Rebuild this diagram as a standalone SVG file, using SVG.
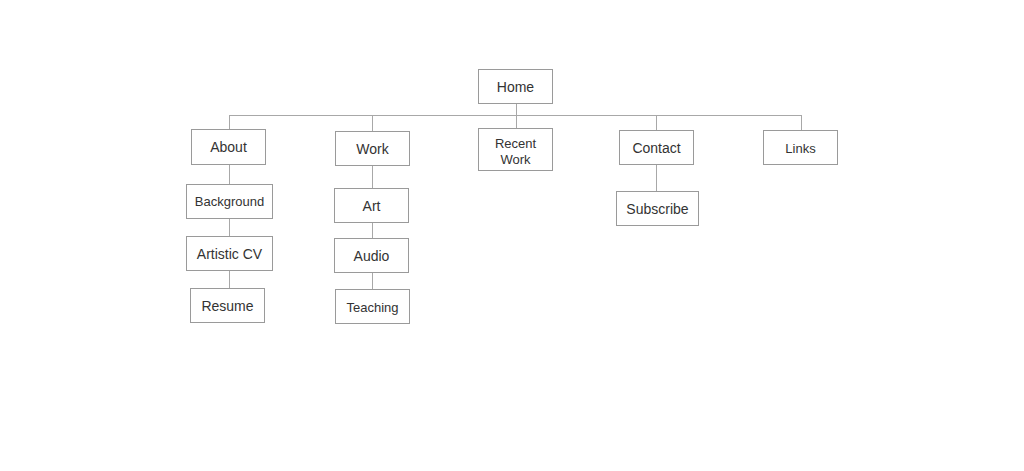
<svg xmlns="http://www.w3.org/2000/svg" width="1024" height="471" viewBox="0 0 1024 471">
  <style>
    .box { fill: #ffffff; stroke: #9a9a9a; stroke-width: 1; }
    .lbl { font-family: "Liberation Sans", Arial, sans-serif; font-size: 14px; fill: #333333; text-anchor: middle; dominant-baseline: central; }
    .sm { font-size: 13px; }
    .link { stroke: #a8a8a8; stroke-width: 1; fill: none; }
  </style>
  <rect width="1024" height="471" fill="#ffffff"/>

  <!-- connectors -->
  <g id="connectors">
    <path class="link" d="M229.5 115.5 H801.5"/>
    <path class="link" d="M516.5 103 V128"/>
    <path class="link" d="M229.5 115 V129"/>
    <path class="link" d="M372.5 115 V131"/>
    <path class="link" d="M656.5 115 V131"/>
    <path class="link" d="M801.5 115 V131"/>
    <path class="link" d="M229.5 165 V184 M229.5 218 V236 M229.5 270 V288"/>
    <path class="link" d="M372.5 166 V188 M372.5 222 V238 M372.5 272 V289"/>
    <path class="link" d="M656.5 164 V191"/>
  </g>

  <g id="home"><rect class="box" x="478.5" y="69.5" width="74" height="34"/><text class="lbl" x="515.5" y="86.5">Home</text></g>
  <g id="about"><rect class="box" x="191.5" y="129.5" width="74" height="35"/><text class="lbl" x="228.5" y="147">About</text></g>
  <g id="work"><rect class="box" x="335.5" y="131.5" width="74" height="34"/><text class="lbl" x="372.5" y="149">Work</text></g>
  <g id="recent-work"><rect class="box" x="478.5" y="128.5" width="74" height="42"/><text class="lbl sm" x="515.5" y="143.5">Recent</text><text class="lbl sm" x="515.5" y="159">Work</text></g>
  <g id="contact"><rect class="box" x="619.5" y="130.5" width="74" height="34"/><text class="lbl" x="656.5" y="147.5">Contact</text></g>
  <g id="links"><rect class="box" x="763.5" y="130.5" width="74" height="34"/><text class="lbl sm" x="800.5" y="148">Links</text></g>

  <g id="background"><rect class="box" x="186.5" y="184.5" width="86" height="34"/><text class="lbl sm" x="229.5" y="201.5">Background</text></g>
  <g id="artistic-cv"><rect class="box" x="186.5" y="236.5" width="86" height="34"/><text class="lbl" x="229.5" y="253.5">Artistic CV</text></g>
  <g id="resume"><rect class="box" x="190.5" y="288.5" width="74" height="34"/><text class="lbl" x="227.5" y="305.5">Resume</text></g>

  <g id="art"><rect class="box" x="334.5" y="188.5" width="74" height="34"/><text class="lbl" x="371.5" y="205.5">Art</text></g>
  <g id="audio"><rect class="box" x="334.5" y="238.5" width="74" height="34"/><text class="lbl" x="371.5" y="255.5">Audio</text></g>
  <g id="teaching"><rect class="box" x="335.5" y="289.5" width="74" height="34"/><text class="lbl sm" x="372.5" y="307">Teaching</text></g>

  <g id="subscribe"><rect class="box" x="616.5" y="191.5" width="82" height="34"/><text class="lbl" x="657.5" y="208.5">Subscribe</text></g>
</svg>
